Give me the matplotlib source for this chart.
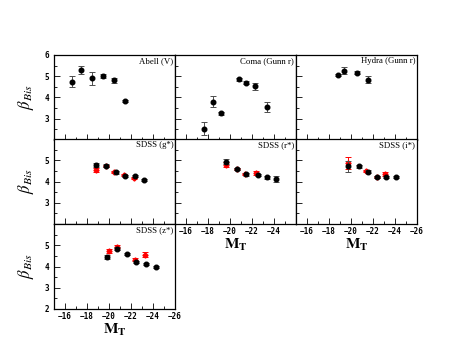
import matplotlib
matplotlib.use("Agg")
import matplotlib.pyplot as plt
from matplotlib.ticker import MultipleLocator, FixedLocator

plt.rcParams['mathtext.fontset'] = 'stix'

# ---- data ----
abell_x = [-16.6, -17.5, -18.5, -19.5, -20.5, -21.5]
abell_y = [4.75, 5.29, 4.90, 5.01, 4.81, 3.84]
abell_e = [0.27, 0.20, 0.32, 0.10, 0.13, 0.06]

coma_x = [-17.6, -18.5, -19.2, -20.8, -21.5, -22.3, -23.4]
coma_y = [2.54, 3.80, 3.25, 4.86, 4.70, 4.52, 3.57]
coma_e = [0.29, 0.27, 0.08, 0.08, 0.06, 0.17, 0.24]

hydra_x = [-18.8, -19.4, -20.5, -21.5]
hydra_y = [5.06, 5.27, 5.16, 4.84]
hydra_e = [0.06, 0.17, 0.07, 0.16]

g_bx = [-18.85, -19.7, -20.6, -21.5, -22.4, -23.2]
g_by = [4.76, 4.75, 4.43, 4.25, 4.25, 4.08]
g_be = [0.10, 0.06, 0.06, 0.06, 0.06, 0.06]
g_rx = [-18.85, -19.7, -20.5, -21.35, -22.25]
g_ry = [4.54, 4.75, 4.46, 4.30, 4.18]
g_re = [0.10, 0.05, 0.05, 0.05, 0.05]

r_bx = [-19.6, -20.6, -21.5, -22.5, -23.4, -24.2]
r_by = [4.94, 4.59, 4.33, 4.30, 4.19, 4.13]
r_be = [0.11, 0.06, 0.06, 0.06, 0.06, 0.13]
r_rx = [-19.6, -20.6, -21.4, -22.4]
r_ry = [4.80, 4.59, 4.37, 4.40]
r_re = [0.10, 0.05, 0.05, 0.08]

i_bx = [-19.7, -20.7, -21.5, -22.4, -23.2, -24.1]
i_by = [4.71, 4.71, 4.46, 4.21, 4.21, 4.21]
i_be = [0.24, 0.06, 0.06, 0.06, 0.06, 0.06]
i_rx = [-19.7, -21.4, -22.4, -23.1]
i_ry = [4.87, 4.49, 4.22, 4.37]
i_re = [0.30, 0.06, 0.06, 0.10]

z_bx = [-19.85, -20.7, -21.6, -22.5, -23.4, -24.3]
z_by = [4.44, 4.84, 4.59, 4.20, 4.11, 3.99]
z_be = [0.10, 0.08, 0.05, 0.05, 0.05, 0.05]
z_rx = [-20.0, -20.7, -22.4, -23.3]
z_ry = [4.73, 4.94, 4.32, 4.56]
z_re = [0.08, 0.08, 0.06, 0.10]

titles = ["Abell (V)", "Coma (Gunn r)", "Hydra (Gunn r)",
          "SDSS (g*)", "SDSS (r*)", "SDSS (i*)", "SDSS (z*)"]
xticks = [-16, -18, -20, -22, -24, -26]

panels = [
    (abell_x, abell_y, abell_e, None, None, None),
    (coma_x, coma_y, coma_e, None, None, None),
    (hydra_x, hydra_y, hydra_e, None, None, None),
    (g_bx, g_by, g_be, g_rx, g_ry, g_re),
    (r_bx, r_by, r_be, r_rx, r_ry, r_re),
    (i_bx, i_by, i_be, i_rx, i_ry, i_re),
    (z_bx, z_by, z_be, z_rx, z_ry, z_re),
]

W, H = 471, 364
fig = plt.figure(figsize=(W / 100, H / 100), dpi=100)
left0, colw = 54, 121
tops = [55, 139, 224]
rowh = 85

tickfont = dict(family='DejaVu Sans Mono', weight='bold', size=5.5)

for k, (bx, by, be, rx, ry, re) in enumerate(panels):
    row, col = divmod(k, 3)
    l = (left0 + col * colw) / W
    b = (H - tops[row] - rowh) / H
    ax = fig.add_axes([l, b, colw / W, rowh / H])
    ax.set_xlim(-15, -26)
    ax.set_ylim(2, 6)
    if rx is not None:
        ax.errorbar(rx, ry, yerr=re, fmt='D', color='red', ms=2.6,
                    ecolor='red', elinewidth=0.7, capsize=2.2, capthick=0.7, zorder=2)
    ax.errorbar(bx, by, yerr=be, fmt='o', color='black', ms=3.3,
                ecolor='0.3', elinewidth=0.7, capsize=2.5, capthick=0.7, zorder=3)
    ax.text(0.985, 0.975, titles[k], transform=ax.transAxes, ha='right', va='top',
            family='Liberation Serif', fontsize=6.3)
    ax.xaxis.set_major_locator(FixedLocator(xticks))
    ax.xaxis.set_minor_locator(MultipleLocator(1))
    ax.yaxis.set_major_locator(MultipleLocator(1))
    ax.yaxis.set_minor_locator(MultipleLocator(0.5))
    ax.tick_params(which='both', direction='in', top=False, right=False)
    ax.tick_params(which='major', length=4, width=0.6)
    ax.tick_params(which='minor', length=2.5, width=0.6)
    for sp in ax.spines.values():
        sp.set_linewidth(0.9)
    # y tick labels
    if col == 0:
        if row == 0:
            yt = [3, 4, 5, 6]
        elif row == 1:
            yt = [3, 4, 5]
        else:
            yt = [2, 3, 4, 5]
        ax.yaxis.set_major_locator(FixedLocator([2, 3, 4, 5, 6]))
        ax.set_yticklabels([str(v) if v in yt else '' for v in [2, 3, 4, 5, 6]], **tickfont)
        ax.set_ylabel(r'$\beta_{Bis}$', fontsize=12, labelpad=6)
    else:
        ax.set_yticklabels([])
    # x tick labels
    show_x = (row == 1 and col in (1, 2)) or (row == 2 and col == 0)
    if show_x:
        labs = ['\u221216', '\u221218', '\u221220', '\u221222', '\u221224', '\u221226']
        if col == 1:
            labs[-1] = ''
        ax.set_xticklabels(labs, **tickfont)
        ax.tick_params(axis='x', pad=2)
        ax.set_xlabel(r'$\mathbf{M_T}$', fontsize=11, labelpad=1)
    else:
        ax.set_xticklabels([])

fig.savefig('out.png', dpi=100)
